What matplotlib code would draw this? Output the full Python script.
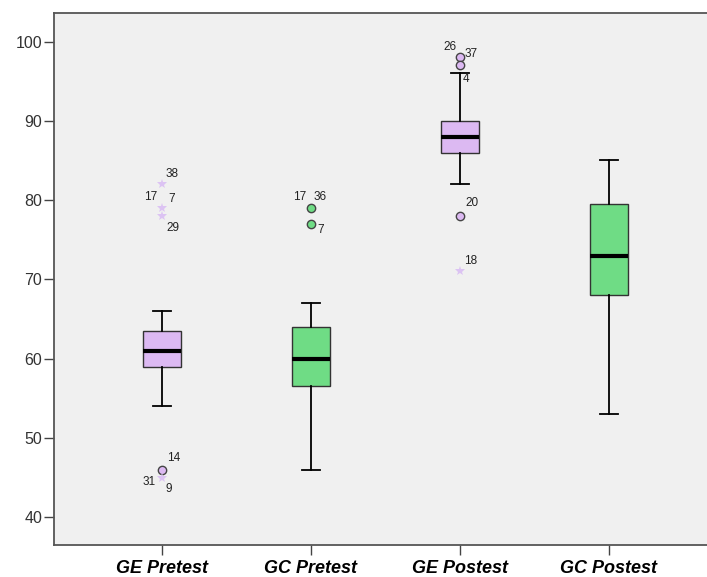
import matplotlib
matplotlib.use("Agg")
import matplotlib.pyplot as plt

plt.rcParams["font.family"] = ["Liberation Sans", "DejaVu Sans"]

# box summary per group
groups = ["GE Pretest", "GC Pretest", "GE Postest", "GC Postest"]
q1 = [59, 56.5, 86, 68]
median = [61, 60, 88, 73]
q3 = [63.5, 64, 90, 79.5]
whis_lo = [54, 46, 82, 53]
whis_hi = [66, 67, 96, 85]

# outliers (circles) and extremes (stars), by group index
out_group = [0, 1, 1, 2, 2, 2]
out_value = [46, 79, 77, 98, 97, 78]
ext_group = [0, 0, 0, 0, 2]
ext_value = [82, 79, 78, 45, 71]

# case numbers written beside the points
case_group = [0, 0, 0, 0, 0, 0, 0, 1, 1, 1, 2, 2, 2, 2, 2]
case_value = [82, 79, 79, 78, 46, 45, 45, 79, 79, 77, 98, 98, 97, 78, 71]
case_text = ["38", "17", "7", "29", "14", "31", "9",
             "17", "36", "7", "26", "37", "4", "20", "18"]
case_offset = [(4, 10, "left"), (-5, 11, "right"), (6, 9, "left"), (4, -12, "left"),
               (5, 11.5, "left"), (-6, -4, "right"), (4, -11.5, "left"),
               (-5, 11, "right"), (3, 11, "left"), (6, -6.5, "left"),
               (-3, 10.5, "right"), (5, 3, "left"), (3, -13.5, "left"),
               (6, 12.5, "left"), (4, 10, "left")]

purple = "#dcb9f2"
green = "#6fdc85"
box_colors = [purple, green, purple, green]

fig = plt.figure(figsize=(7.07, 5.77), dpi=100)
ax = fig.add_axes([54 / 707, 32 / 577, 1 - 54 / 707, 532 / 577])
ax.set_facecolor("#f0f0f0")

positions = list(range(1, len(groups) + 1))
stats = []
for i, g in enumerate(groups):
    stats.append({"label": g, "q1": q1[i], "med": median[i], "q3": q3[i],
                  "whislo": whis_lo[i], "whishi": whis_hi[i], "fliers": []})

bp = ax.bxp(stats, positions=positions, widths=0.255, patch_artist=True,
            showfliers=False,
            boxprops=dict(edgecolor="#333333", linewidth=1.0),
            whiskerprops=dict(color="black", linewidth=1.3),
            capprops=dict(color="black", linewidth=1.3),
            medianprops=dict(color="black", linewidth=3))
for patch, c in zip(bp["boxes"], box_colors):
    patch.set_facecolor(c)
# shorter whisker caps
for cap in bp["caps"]:
    x0, x1 = cap.get_xdata()
    xc = (x0 + x1) / 2
    cap.set_xdata([xc - 0.06, xc + 0.06])

# circles take the colour of their group
for g, v in zip(out_group, out_value):
    ax.plot(positions[g], v, "o", markersize=6, markerfacecolor=box_colors[g],
            markeredgecolor="#444444", markeredgewidth=1)
ax.plot([positions[g] for g in ext_group], ext_value, "*", ls="none",
        markersize=7.5, color="#dcc3f3", markeredgewidth=0)

for g, v, t, (dx, dy, ha) in zip(case_group, case_value, case_text, case_offset):
    ax.annotate(t, (positions[g], v), xytext=(dx, dy), textcoords="offset pixels",
                ha=ha, va="center", fontsize=8.5, color="#222222")

ax.set_xlim(0.275, 4.66)
ax.set_ylim(36.5, 103.6)
ax.set_yticks([40, 50, 60, 70, 80, 90, 100])
ax.set_xticks(positions)
ax.set_xticklabels(groups, fontsize=13, fontweight="bold", fontstyle="italic")
ax.tick_params(axis="y", length=7, width=1, color="#444444", labelsize=11.5,
               labelcolor="#333333", pad=1.5)
ax.tick_params(axis="x", length=7, width=1, color="#444444", pad=4)
for side in ["left", "top", "bottom"]:
    ax.spines[side].set_color("#555555")
    ax.spines[side].set_linewidth(1.3)
ax.spines["right"].set_visible(False)

fig.savefig("out.png", dpi=100)
